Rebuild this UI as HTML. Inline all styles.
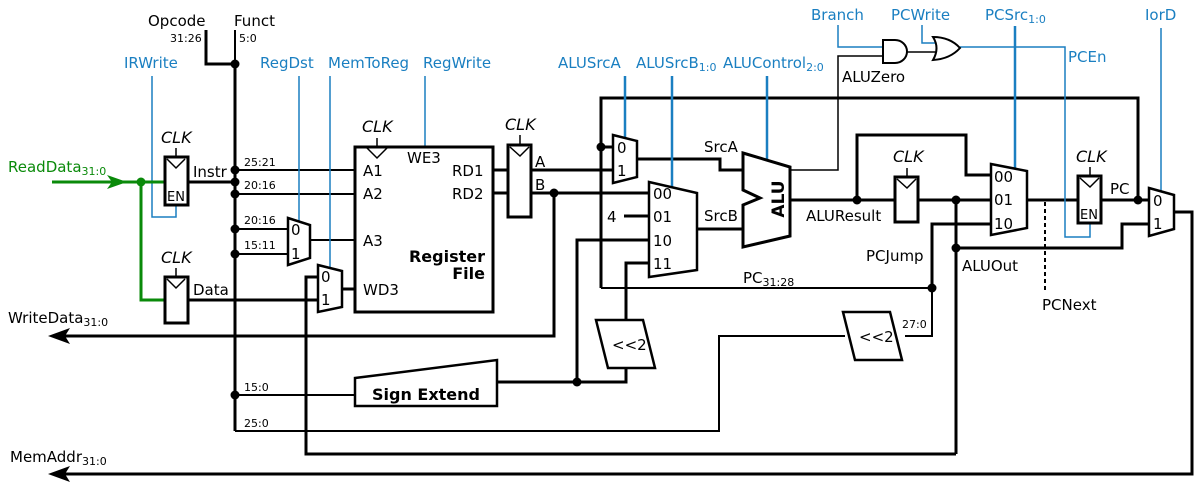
<!DOCTYPE html>
<html><head><meta charset="utf-8"></head>
<body style="margin:0;padding:0;background:#fff">
<svg width="1200" height="487" viewBox="0 0 1200 487" xmlns="http://www.w3.org/2000/svg" font-family="DejaVu Sans, Liberation Sans, sans-serif" font-size="15" style="display:block">
<rect width="1200" height="487" fill="#fff"/>
<!-- labels top -->
<g fill="#000">
<text x="148" y="26">Opcode</text><text x="234" y="26">Funct</text>
<text x="170" y="42" font-size="11">31:26</text><text x="239" y="42" font-size="11">5:0</text>
<text x="842" y="82">ALUZero</text>
</g>
<g fill="#1a7fc1">
<text x="124" y="68">IRWrite</text>
<text x="260" y="68">RegDst</text>
<text x="328" y="68">MemToReg</text>
<text x="423" y="68">RegWrite</text>
<text x="558" y="68">ALUSrcA</text>
<text x="636" y="68">ALUSrcB<tspan font-size="11" dy="3">1:0</tspan></text>
<text x="723" y="68">ALUControl<tspan font-size="11" dy="3">2:0</tspan></text>
<text x="811" y="20">Branch</text>
<text x="891" y="20">PCWrite</text>
<text x="985" y="20">PCSrc<tspan font-size="11" dy="3">1:0</tspan></text>
<text x="1145" y="20">IorD</text>
<text x="1068" y="62">PCEn</text>
</g>

<g stroke="#000" fill="none">
<!-- opcode/funct -->
<polyline stroke-width="3" points="206,30 206,64 235,64"/>
<line stroke-width="2" x1="235" y1="30" x2="235" y2="64"/>
<polyline stroke-width="3" points="235,64 235,431"/>
<polyline stroke-width="2" points="235,431 719,431 719,336 845,336"/>
<line stroke-width="3" x1="188" y1="182" x2="235" y2="182"/>
<line stroke-width="3" x1="188" y1="300" x2="318" y2="300"/>
<line stroke-width="2" x1="235" y1="170" x2="355" y2="170"/>
<line stroke-width="2" x1="235" y1="194" x2="355" y2="194"/>
<line stroke-width="2" x1="235" y1="229" x2="288" y2="229"/>
<line stroke-width="2" x1="235" y1="254" x2="288" y2="254"/>
<line stroke-width="2" x1="235" y1="395" x2="355" y2="395"/>
<line stroke-width="2" x1="310" y1="240" x2="355" y2="240"/>
<polyline stroke-width="3" points="318,277 306,277 306,454 956,454"/>
<line stroke-width="3" x1="342" y1="289" x2="355" y2="289"/>
<line stroke-width="3" x1="493" y1="170" x2="508" y2="170"/>
<line stroke-width="3" x1="493" y1="193" x2="508" y2="193"/>
<line stroke-width="3" x1="531" y1="170" x2="613" y2="170"/>
<line stroke-width="3" x1="531" y1="193" x2="649" y2="193"/>
<polyline stroke-width="3" points="554,193 554,336 62,336"/>
<polyline stroke-width="3" points="1173,212 1192,212 1192,474 62,474"/>
<polyline stroke-width="3" points="601,288 601,98 1138,98 1138,200"/>
<line stroke-width="2" x1="601" y1="288" x2="932" y2="288"/>
<line stroke-width="3" x1="601" y1="147" x2="613" y2="147"/>
<polyline stroke-width="3" points="637,159 720,159 720,170 743,170"/>
<line stroke-width="3" x1="624" y1="216" x2="649" y2="216"/>
<polyline stroke-width="3" points="649,240 577,240 577,382"/>
<polyline stroke-width="3" points="649,263 626,263 626,320"/>
<polyline stroke-width="3" points="697,229 743,229"/>
<polyline stroke-width="3" points="626,368 626,382 497,382"/>
<polyline stroke-width="1.5" points="790,170 838,170 838,56 884,56"/>
<line stroke-width="3" x1="790" y1="200" x2="895" y2="200"/>
<polyline stroke-width="3" points="857,200 857,135 966,135 966,175 991,175"/>
<line stroke-width="1.5" x1="907" y1="52" x2="936" y2="52"/>
<line stroke-width="3" x1="918" y1="200" x2="991" y2="200"/>
<line stroke-width="3" x1="956" y1="200" x2="956" y2="454"/>
<polyline stroke-width="3" points="956,248 1122,248 1122,224 1149,224"/>
<polyline stroke-width="3" points="932,288 932,224 991,224"/>
<polyline stroke-width="2" points="905,336 932,336 932,288"/>
<line stroke-width="3" x1="1027" y1="200" x2="1078" y2="200"/>
<line stroke-width="2" x1="1045" y1="202" x2="1045" y2="290" stroke-dasharray="4,3"/>
<line stroke-width="3" x1="1101" y1="200" x2="1149" y2="200"/>
</g>

<!-- blue control lines -->
<g stroke="#1a7fc1" fill="none" stroke-width="1.5">
<polyline points="152,76 152,217 176,217 176,205"/>
<line x1="299" y1="76" x2="299" y2="222"/>
<line x1="330" y1="76" x2="330" y2="268"/>
<line x1="425" y1="76" x2="425" y2="147"/>
<line x1="625" y1="76" x2="625" y2="138" stroke-width="2.5"/>
<line x1="672" y1="76" x2="672" y2="190" stroke-width="2.5"/>
<line x1="767" y1="76" x2="767" y2="160" stroke-width="2.5"/>
<polyline points="838,25 838,47 884,47"/>
<polyline points="922,25 922,43 937,43"/>
<polyline points="960,47 1065,47 1065,237 1090,237 1090,223"/>
<line x1="1015" y1="26" x2="1015" y2="168" stroke-width="2.5"/>
<line x1="1161" y1="28" x2="1161" y2="192"/>
</g>

<!-- ReadData green -->
<text x="8" y="172" fill="#0a8a0a">ReadData<tspan font-size="11" dy="3">31:0</tspan></text>
<g stroke="#0a8a0a" stroke-width="3" fill="none">
<line x1="52" y1="182" x2="165" y2="182"/>
<polyline points="141,182 141,300 165,300"/>
</g>
<polygon points="107,175 127,182 107,189 112,182" fill="#0a8a0a"/>
<circle cx="141" cy="182" r="4.5" fill="#0a8a0a"/>

<!-- arrows -->
<polygon points="48,336 70,328 65,336 70,344" fill="#000"/>
<polygon points="48,474 70,466 65,474 70,482" fill="#000"/>
<text x="8" y="323">WriteData<tspan font-size="11" dy="3">31:0</tspan></text>
<text x="10" y="462">MemAddr<tspan font-size="11" dy="3">31:0</tspan></text>

<!-- registers -->
<g stroke="#000" fill="#fff" stroke-width="3">
<rect x="165" y="157" width="23" height="48"/>
<rect x="165" y="277" width="23" height="46"/>
<rect x="355" y="147" width="138" height="165"/>
<rect x="508" y="145" width="23" height="72"/>
<rect x="895" y="177" width="23" height="45"/>
<rect x="1078" y="176" width="23" height="47"/>
<polygon stroke-width="2.5" points="288,218 310,225 310,258 288,265"/>
<polygon stroke-width="2.5" points="318,265 342,271 342,307 318,312"/>
<polygon stroke-width="2.5" points="613,135 637,141 637,177 613,183"/>
<polygon stroke-width="2.5" points="649,182 697,193 697,270 649,277"/>
<polygon stroke-width="2.5" points="596,320 643,320 655,368 608,368"/>
<polygon stroke-width="2.5" points="355,378 497,360 497,406 355,406"/>
<polygon points="743,153 790,167 790,236 743,247 743,205 760,198 743,190"/>
<polygon stroke-width="2.5" points="843,312 890,312 902,360 855,360"/>
<polygon stroke-width="2.5" points="991,164 1027,171 1027,228 991,235"/>
<polygon stroke-width="2.5" points="1149,188 1174,195 1174,229 1149,236"/>
<path stroke-width="2" d="M883,40 L895,40 A12,11.5 0 0 1 895,63 L883,63 Z"/>
<path stroke-width="2" d="M933,37 Q950,37 960,48 Q950,59 933,60 Q940,48 933,37 Z"/>
</g>
<!-- clock marks -->
<g stroke="#000" fill="none" stroke-width="1.5">
<polyline points="167,159 176,168 185,159"/><line x1="176" y1="148" x2="176" y2="157"/>
<polyline points="167,279 176,288 185,279"/><line x1="176" y1="268" x2="176" y2="277"/>
<polyline points="367,148 377,158 387,148"/><line x1="377" y1="138" x2="377" y2="148"/>
<polyline points="510,147 520,156 529,147"/><line x1="520" y1="135" x2="520" y2="145"/>
<polyline points="897,179 907,188 916,179"/><line x1="907" y1="168" x2="907" y2="177"/>
<polyline points="1080,178 1090,187 1099,178"/><line x1="1090" y1="167" x2="1090" y2="176"/>
</g>

<!-- dots -->
<g fill="#000">
<circle cx="235" cy="64" r="4.5"/><circle cx="235" cy="170" r="4.5"/><circle cx="235" cy="182" r="4.5"/><circle cx="235" cy="194" r="4.5"/><circle cx="235" cy="229" r="4.5"/><circle cx="235" cy="254" r="4.5"/><circle cx="235" cy="395" r="4.5"/>
<circle cx="554" cy="193" r="4.5"/><circle cx="601" cy="147" r="4.5"/><circle cx="577" cy="382" r="4.5"/>
<circle cx="857" cy="200" r="4.5"/><circle cx="956" cy="200" r="4.5"/><circle cx="956" cy="248" r="4.5"/><circle cx="932" cy="288" r="4.5"/><circle cx="1138" cy="200" r="4.5"/>
</g>

<!-- text -->
<g fill="#000">
<g font-style="italic" font-size="16">
<text x="161" y="143">CLK</text><text x="161" y="263">CLK</text><text x="362" y="132">CLK</text>
<text x="505" y="130">CLK</text><text x="893" y="162">CLK</text><text x="1076" y="162">CLK</text>
</g>
<text x="167" y="201" font-size="13">EN</text>
<text x="1080" y="219" font-size="13">EN</text>
<text x="193" y="177">Instr</text>
<text x="193" y="295">Data</text>
<g font-size="11">
<text x="244" y="166">25:21</text><text x="244" y="189">20:16</text><text x="244" y="224">20:16</text>
<text x="244" y="249">15:11</text><text x="244" y="391">15:0</text><text x="244" y="427">25:0</text>
<text x="902" y="328">27:0</text>
</g>
<text x="291" y="235">0</text><text x="291" y="259">1</text>
<text x="321" y="282">0</text><text x="321" y="305">1</text>
<text x="407" y="163">WE3</text>
<text x="363" y="176">A1</text><text x="363" y="199">A2</text><text x="363" y="246">A3</text><text x="363" y="295">WD3</text>
<text x="452" y="176">RD1</text><text x="452" y="199">RD2</text>
<text x="485" y="262" text-anchor="end" font-weight="bold" font-size="16">Register</text>
<text x="485" y="279" text-anchor="end" font-weight="bold" font-size="16">File</text>
<text x="535" y="167">A</text><text x="535" y="190">B</text>
<text x="617" y="153">0</text><text x="617" y="176">1</text>
<text x="704" y="152">SrcA</text><text x="704" y="221">SrcB</text>
<text x="653" y="199">00</text><text x="653" y="222">01</text><text x="653" y="246">10</text><text x="653" y="269">11</text>
<text x="607" y="222">4</text>
<text x="612" y="350">&lt;&lt;2</text>
<text x="426" y="400" text-anchor="middle" font-weight="bold" font-size="16">Sign Extend</text>
<text transform="translate(784,199) rotate(-90)" text-anchor="middle" font-weight="bold" font-size="17">ALU</text>
<text x="806" y="221">ALUResult</text>
<text x="743" y="283">PC<tspan font-size="11" dy="3">31:28</tspan></text>
<text x="866" y="261">PCJump</text>
<text x="962" y="271">ALUOut</text>
<text x="859" y="342">&lt;&lt;2</text>
<text x="994" y="182">00</text><text x="994" y="205">01</text><text x="994" y="229">10</text>
<text x="1042" y="310">PCNext</text>
<text x="1110" y="194">PC</text>
<text x="1153" y="206">0</text><text x="1153" y="229">1</text>
</g>
</svg>
</body></html>
